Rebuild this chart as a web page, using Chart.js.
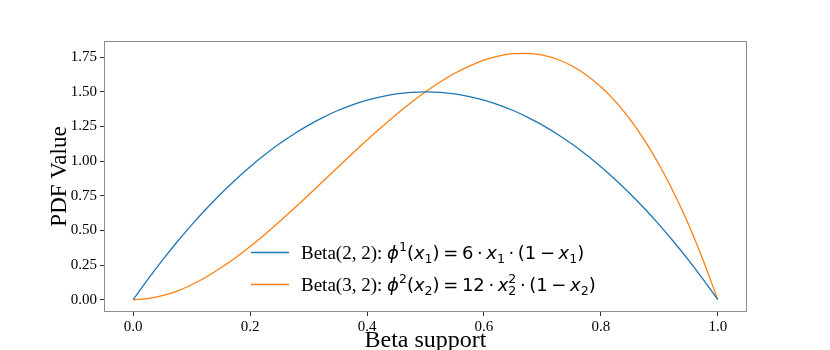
<!DOCTYPE html>
<html>
<head>
<meta charset="utf-8">
<script src="https://cdn.jsdelivr.net/npm/chart.js@4/dist/chart.umd.min.js"></script>
<style>
  html, body { margin: 0; padding: 0; background: #fff; }
  #wrap { width: 830px; height: 350px; }
</style>
</head>
<body>
<div id="wrap"><canvas id="pdfChart"></canvas></div>
<script>
// support points
const support = [0, 0.025, 0.05, 0.075, 0.1, 0.125, 0.15, 0.175, 0.2, 0.225, 0.25,
    0.275, 0.3, 0.325, 0.35, 0.375, 0.4, 0.425, 0.45, 0.475, 0.5,
    0.525, 0.55, 0.575, 0.6, 0.625, 0.65, 0.675, 0.7, 0.725, 0.75,
    0.775, 0.8, 0.825, 0.85, 0.875, 0.9, 0.925, 0.95, 0.975, 1];

const beta22 = [0, 0.146, 0.285, 0.416, 0.54, 0.656, 0.765, 0.866, 0.96, 1.046, 1.125,
    1.196, 1.26, 1.316, 1.365, 1.406, 1.44, 1.466, 1.485, 1.496, 1.5,
    1.496, 1.485, 1.466, 1.44, 1.406, 1.365, 1.316, 1.26, 1.196, 1.125,
    1.046, 0.96, 0.866, 0.765, 0.656, 0.54, 0.416, 0.285, 0.146, 0];

const beta32 = [0, 0.007, 0.029, 0.062, 0.108, 0.164, 0.23, 0.303, 0.384, 0.471, 0.563,
    0.658, 0.756, 0.856, 0.956, 1.055, 1.152, 1.246, 1.337, 1.421, 1.5,
    1.571, 1.634, 1.686, 1.728, 1.758, 1.775, 1.777, 1.764, 1.735, 1.688,
    1.622, 1.536, 1.429, 1.301, 1.148, 0.972, 0.77, 0.542, 0.285, 0];

const seriesNames = ["Beta(2, 2)", "Beta(3, 2)"];
const seriesColors = ["#1f77b4", "#ff7f0e"];

const xTicks = [0, 0.2, 0.4, 0.6, 0.8, 1.0];
const yTicks = [0, 0.25, 0.5, 0.75, 1.0, 1.25, 1.5, 1.75];

// legend formulas, split into pieces: [text, style]; "gap" is a thin math space
const legendFormulas = [
    [["ϕ", "mi"], ["1", "sup"], ["(", "m"], ["x", "mi"], ["1", "sub"], [")", "m"],
     ["", "gap"], ["=", "m"], ["", "gap"], ["6", "m"], ["", "gap"], ["·", "m"], ["", "gap"],
     ["x", "mi"], ["1", "sub"], ["", "gap"], ["·", "m"], ["", "gap"], ["(1", "m"],
     ["", "gap"], ["−", "m"], ["", "gap"], ["x", "mi"], ["1", "sub"], [")", "m"]],
    [["ϕ", "mi"], ["2", "sup"], ["(", "m"], ["x", "mi"], ["2", "sub"], [")", "m"],
     ["", "gap"], ["=", "m"], ["", "gap"], ["12", "m"], ["", "gap"], ["·", "m"], ["", "gap"],
     ["x", "mi"], ["2", "supk"], ["2", "sub"], ["", "gap"], ["·", "m"], ["", "gap"], ["(1", "m"],
     ["", "gap"], ["−", "m"], ["", "gap"], ["x", "mi"], ["2", "sub"], [")", "m"]]
];

const SERIF = "'Liberation Serif', 'Times New Roman', serif";
const MATH = "'DejaVu Sans', sans-serif";

const frame = {
    id: "frame",
    afterDatasetsDraw(chart) {
        const { ctx, chartArea: a } = chart;
        ctx.save();
        ctx.strokeStyle = "#8c8c8c";
        ctx.lineWidth = 1;
        ctx.strokeRect(Math.round(a.left) + 0.5, Math.round(a.top) + 0.5,
            Math.round(a.right - a.left) - 1, Math.round(a.bottom - a.top) - 1);
        ctx.restore();
    }
};

const mathLegend = {
    id: "mathLegend",
    afterDraw(chart) {
        const ctx = chart.ctx;
        const fs = 19, ms = 18;
        ctx.save();
        chart.data.datasets.forEach((ds, i) => {
            const ly = 252 + i * 32;
            ctx.strokeStyle = ds.borderColor;
            ctx.lineWidth = 1.3;
            ctx.beginPath();
            ctx.moveTo(251, ly + 0.5);
            ctx.lineTo(289, ly + 0.5);
            ctx.stroke();

            const base = ly + 7;
            let x = 301;
            ctx.fillStyle = "#000";
            ctx.textBaseline = "alphabetic";
            ctx.font = fs + "px " + SERIF;
            const head = ds.label + ": ";
            ctx.fillText(head, x, base);
            x += ctx.measureText(head).width;

            legendFormulas[i].forEach(([t, st]) => {
                if (st === "gap") { x += ms * 0.2; return; }
                let dy = 0, size = ms, style = "";
                if (st === "mi") style = "oblique ";
                if (st === "sup" || st === "supk") { size = ms * 0.7; dy = -ms * 0.42; }
                if (st === "sub") { size = ms * 0.7; dy = ms * 0.2; }
                ctx.font = style + size + "px " + MATH;
                const w = ctx.measureText(t).width;
                ctx.fillText(t, x, base + dy);
                if (st !== "supk") x += w;
            });
        });
        ctx.restore();
    }
};

new Chart(document.getElementById("pdfChart"), {
    type: "line",
    data: {
        datasets: [
            {
                label: seriesNames[0],
                data: support.map((x, i) => ({ x: x, y: beta22[i] })),
                borderColor: seriesColors[0],
                borderWidth: 1.3,
                pointRadius: 0,
                cubicInterpolationMode: "monotone",
                fill: false,
            },
            {
                label: seriesNames[1],
                data: support.map((x, i) => ({ x: x, y: beta32[i] })),
                borderColor: seriesColors[1],
                borderWidth: 1.3,
                pointRadius: 0,
                cubicInterpolationMode: "monotone",
                fill: false,
            },
        ],
    },
    plugins: [frame, mathLegend],
    options: {
        responsive: true,
        maintainAspectRatio: false,
        animation: false,
        layout: { padding: { left: 0, right: 83, top: 41, bottom: 0 } },
        plugins: {
            legend: { display: false },
            tooltip: { enabled: false },
        },
        scales: {
            x: {
                type: "linear",
                min: -0.05,
                max: 1.05,
                afterFit: (s) => { s.height = 38; },
                afterBuildTicks: (s) => { s.ticks = xTicks.map((v) => ({ value: v })); },
                border: { display: false },
                grid: {
                    drawOnChartArea: false,
                    drawTicks: true,
                    tickLength: 4,
                    color: "#333",
                },
                ticks: {
                    color: "#000",
                    padding: 2,
                    maxRotation: 0,
                    font: { family: SERIF, size: 15 },
                    callback: (v) => Number(v).toFixed(1),
                },
                title: {
                    display: true,
                    text: "Beta support",
                    color: "#000",
                    font: { family: SERIF, size: 24, lineHeight: 1 },
                    padding: { top: 0, bottom: -3 },
                },
            },
            y: {
                min: -0.0889,
                max: 1.8667,
                afterFit: (s) => { s.width = 104; },
                afterBuildTicks: (s) => { s.ticks = yTicks.map((v) => ({ value: v })); },
                border: { display: false },
                grid: {
                    drawOnChartArea: false,
                    drawTicks: true,
                    tickLength: 4,
                    color: "#333",
                },
                ticks: {
                    color: "#000",
                    padding: 3,
                    font: { family: SERIF, size: 15 },
                    callback: (v) => Number(v).toFixed(2),
                },
                title: {
                    display: true,
                    text: "PDF Value",
                    color: "#000",
                    font: { family: SERIF, size: 23, lineHeight: 1 },
                    padding: { top: 48, bottom: 0 },
                },
            },
        },
    },
});
</script>
</body>
</html>
